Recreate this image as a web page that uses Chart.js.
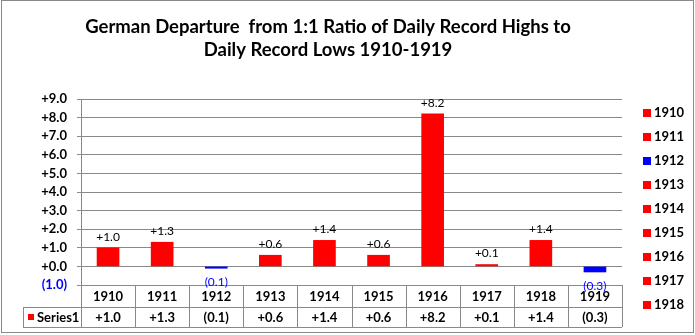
<!DOCTYPE html>
<html>
<head>
<meta charset="utf-8">
<script src="https://cdn.jsdelivr.net/npm/chart.js@4/dist/chart.umd.min.js"></script>
<style>
  html, body { margin: 0; padding: 0; background: #fff; }
  #wrap { width: 695px; height: 335px; }
</style>
</head>
<body>
<div id="wrap"><canvas id="c" width="695" height="335"></canvas></div>
<script>
// ---- data ----
const categories = ['1910', '1911', '1912', '1913', '1914', '1915', '1916', '1917', '1918', '1919'];
const values = [1.0, 1.3, -0.1, 0.6, 1.4, 0.6, 8.2, 0.1, 1.4, -0.3];
const seriesName = 'Series1';
const titleLines = ['German Departure  from 1:1 Ratio of Daily Record Highs to', 'Daily Record Lows 1910-1919'];
const legendCategories = ['1910', '1911', '1912', '1913', '1914', '1915', '1916', '1917', '1918'];

// ---- styles ----
const POS = '#FF0000', NEG = '#0000FF', GRID = '#898989';
const FONT = 'Lato, "Liberation Sans", sans-serif';
const colorFor = v => v < 0 ? NEG : POS;
const fmt = v => v < 0 ? '(' + Math.abs(v).toFixed(1) + ')' : '+' + v.toFixed(1);

const titlePlugin = {
  id: 'titleP',
  afterDraw(chart) {
    const ctx = chart.ctx;
    ctx.save();
    ctx.fillStyle = '#000';
    ctx.font = 'bold 18.5px ' + FONT;
    ctx.textAlign = 'center';
    ctx.textBaseline = 'alphabetic';
    ctx.fillText(titleLines[0], 328, 33);
    ctx.fillText(titleLines[1], 328, 56);
    // outer border
    ctx.strokeStyle = GRID;
    ctx.lineWidth = 1;
    ctx.strokeRect(1.5, 0.5, 692, 332);
    ctx.restore();
  }
};

const labelPlugin = {
  id: 'labelsP',
  afterDatasetsDraw(chart) {
    const ctx = chart.ctx;
    const meta = chart.getDatasetMeta(0);
    ctx.save();
    ctx.font = '12px ' + FONT;
    ctx.textAlign = 'center';
    ctx.textBaseline = 'middle';
    meta.data.forEach((bar, i) => {
      const v = values[i];
      if (v >= 0) {
        ctx.fillStyle = '#000';
        ctx.fillText(fmt(v), bar.x, bar.y - 11);
      } else {
        ctx.fillStyle = NEG;
        ctx.fillText(fmt(v), bar.x, bar.y + 14);
      }
    });
    ctx.restore();
  }
};

const tablePlugin = {
  id: 'tableP',
  afterDraw(chart) {
    const ctx = chart.ctx;
    const xs = chart.scales.x;
    const area = chart.chartArea;
    const top = area.bottom, mid = top + 22, bot = top + 42;
    const leftCell = 23;
    ctx.save();
    ctx.strokeStyle = GRID;
    ctx.lineWidth = 1;
    ctx.beginPath();
    ctx.moveTo(leftCell, Math.round(mid) + 0.5); ctx.lineTo(area.right, Math.round(mid) + 0.5);
    ctx.moveTo(leftCell, Math.round(bot) + 0.5); ctx.lineTo(area.right, Math.round(bot) + 0.5);
    const n = categories.length;
    const w = (area.right - area.left) / n;
    for (let k = 0; k <= n; k++) {
      const x = Math.round(area.left + k * w) + 0.5;
      ctx.moveTo(x, top); ctx.lineTo(x, bot);
    }
    ctx.moveTo(leftCell + 0.5, mid); ctx.lineTo(leftCell + 0.5, bot);
    ctx.stroke();
    ctx.font = 'bold 13px ' + FONT;
    ctx.textAlign = 'center';
    ctx.textBaseline = 'middle';
    ctx.fillStyle = '#000';
    categories.forEach((c, i) => {
      const x = xs.getPixelForValue(i);
      ctx.fillText(c, x, top + 12);
      ctx.fillText(fmt(values[i]), x, mid + 11);
    });
    ctx.fillStyle = POS;
    ctx.fillRect(28, mid + 7, 6, 6);
    ctx.fillStyle = '#000';
    ctx.textAlign = 'left';
    ctx.fillText(seriesName, 37, mid + 11);
    ctx.restore();
  }
};

const legendPlugin = {
  id: 'legendP',
  afterDraw(chart) {
    const ctx = chart.ctx;
    ctx.save();
    ctx.font = 'bold 13px ' + FONT;
    ctx.textAlign = 'left';
    ctx.textBaseline = 'middle';
    legendCategories.forEach((c, i) => {
      const y = 113 + i * 24;
      ctx.fillStyle = colorFor(values[categories.indexOf(c)]);
      ctx.fillRect(643, y - 4, 8, 8);
      ctx.fillStyle = '#000';
      ctx.fillText(c, 654, y);
    });
    ctx.restore();
  }
};

new Chart(document.getElementById('c'), {
  type: 'bar',
  data: {
    labels: categories,
    datasets: [{
      label: seriesName,
      data: values,
      backgroundColor: values.map(colorFor),
      borderWidth: 0,
      barThickness: 22
    }]
  },
  options: {
    responsive: false,
    animation: false,
    devicePixelRatio: 1,
    layout: { padding: { left: 0, top: 99, right: 73, bottom: 50 } },
    plugins: { legend: { display: false }, title: { display: false }, tooltip: { enabled: false } },
    scales: {
      x: { display: false, offset: true },
      y: {
        min: -1, max: 9,
        afterFit(scale) { scale.width = 81; },
        ticks: {
          stepSize: 1,
          padding: 10,
          font: { family: FONT, size: 13, weight: 'bold' },
          color: ctx => (ctx.tick && ctx.tick.value < 0) ? NEG : '#000',
          callback: v => fmt(v)
        },
        grid: { color: GRID, tickLength: 4, lineWidth: 1 },
        border: { color: GRID, width: 1 }
      }
    }
  },
  plugins: [titlePlugin, labelPlugin, tablePlugin, legendPlugin]
});
</script>
</body>
</html>
